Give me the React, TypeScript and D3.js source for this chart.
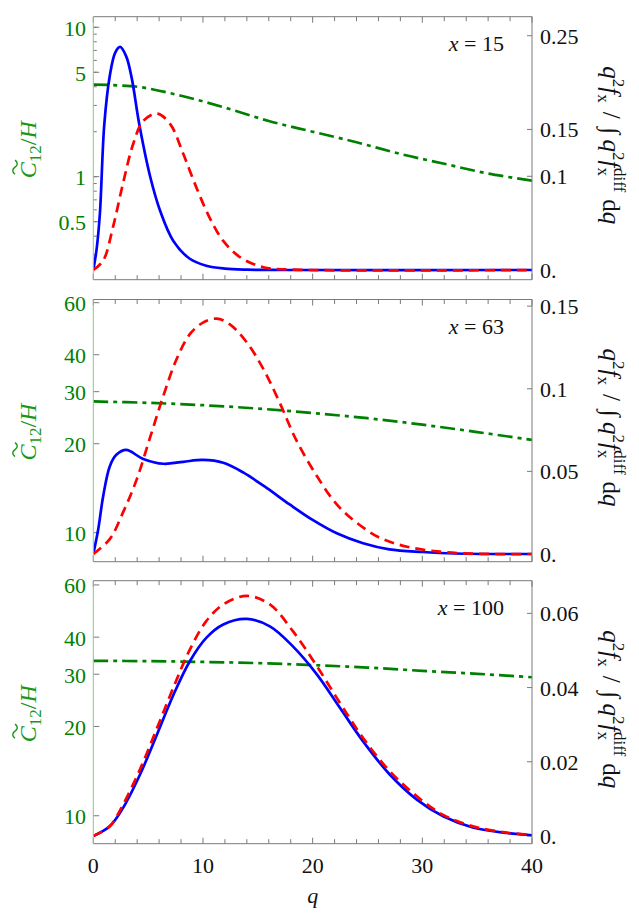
import React from 'react';
import * as d3 from 'd3';

const WIDTH = 639;
const HEIGHT = 920;
const FONT = "'Liberation Serif', 'Times New Roman', 'DejaVu Serif', serif";

const BLUE = '#0000ff';
const RED = '#ff0000';
const GREEN = '#008000';
const FRAME = '#7a7a7a';

// x = 15
const qSolid15 = [0, 0.3, 0.6, 1.0, 1.5, 2.0, 2.45, 3.0, 3.5, 4.2, 5.2, 6.1, 7.3, 8.8, 10.3, 12, 14, 17, 40];
const solid15 = [0, 0.022, 0.06, 0.155, 0.207, 0.232, 0.238, 0.228, 0.205, 0.155, 0.099, 0.063, 0.031, 0.012, 0.0045, 0.0015, 0.0004, 0, 0];
const qDashed15 = [0, 0.9, 1.8, 2.7, 3.65, 4.55, 5.8, 7.0, 8.2, 9.4, 10.6, 11.85, 13.4, 15.5, 18, 40];
const dashed15 = [0, 0.010, 0.046, 0.092, 0.135, 0.159, 0.167, 0.156, 0.124, 0.088, 0.056, 0.031, 0.0135, 0.003, 0.0005, 0];
const qC15 = [0, 4, 8, 12, 16, 20, 24, 28, 32, 36, 40];
const c15 = [4.13, 4.0, 3.48, 2.9, 2.36, 2.0, 1.7, 1.42, 1.22, 1.05, 0.94];

// x = 63
const qSolid63 = [0, 0.45, 0.9, 1.5, 2.1, 3.0, 4.5, 6.4, 8.2, 10.0, 11.85, 13.7, 15.8, 17.9, 20.0, 22.2, 24.6, 27, 30, 33, 40];
const solid63 = [0, 0.015, 0.035, 0.053, 0.06, 0.063, 0.0577, 0.0546, 0.0558, 0.0569, 0.0552, 0.0492, 0.04, 0.03, 0.0206, 0.0125, 0.0065, 0.0028, 0.0012, 0.0003, 0];
const qDashed63 = [0, 1.5, 2.7, 3.95, 5.2, 6.4, 7.6, 8.8, 10.0, 11.25, 12.45, 14.0, 15.5, 17.0, 18.5, 20.4, 22.2, 24.0, 26.1, 28.6, 31.6, 34.5, 40];
const dashed63 = [0, 0.009, 0.025, 0.045, 0.071, 0.096, 0.118, 0.133, 0.14, 0.1424, 0.139, 0.128, 0.112, 0.0915, 0.069, 0.047, 0.03, 0.019, 0.0099, 0.0044, 0.0014, 0.0002, 0];
const qC63 = [0, 5, 10, 15, 20, 25, 30, 35, 40];
const c63 = [27.8, 27.5, 27.0, 26.3, 25.4, 24.4, 23.2, 21.9, 20.6];

// x = 100
const q100 = [0, 1.5, 2.7, 4.25, 5.8, 7.3, 8.8, 10.3, 11.85, 14.0, 16.1, 18.2, 20.4, 22.5, 24.6, 27.05, 29.5, 31.9, 34.6, 37.7, 40];
const solid100 = [0, 0.0026, 0.0075, 0.0165, 0.0273, 0.038, 0.0471, 0.0534, 0.057, 0.0585, 0.0565, 0.0511, 0.0435, 0.0345, 0.0255, 0.0165, 0.0098, 0.0053, 0.0023, 0.0008, 0.0002];
const dashed100 = [0, 0.0026, 0.0084, 0.0179, 0.029, 0.04, 0.0502, 0.0579, 0.0624, 0.0647, 0.0624, 0.0552, 0.0457, 0.0358, 0.0264, 0.0174, 0.0107, 0.0057, 0.0026, 0.0009, 0.0003];
const qC100 = [0, 5, 10, 15, 20, 25, 30, 35, 40];
const c100 = [33.3, 33.2, 33.0, 32.7, 32.2, 31.6, 30.8, 30.1, 29.3];

// axis ticks
const xTicks = [0, 10, 20, 30, 40];
const leftTicks15 = [0.5, 1, 5, 10];
const leftTicksHigh = [10, 20, 30, 40, 60];
const rightTicks15 = [0, 0.1, 0.15, 0.25];
const rightTicks63 = [0, 0.05, 0.1, 0.15];
const rightTicks100 = [0, 0.02, 0.04, 0.06];
const rightLabels15 = ['0.', '0.1', '0.15', '0.25'];
const rightLabels63 = ['0.', '0.05', '0.1', '0.15'];
const rightLabels100 = ['0.', '0.02', '0.04', '0.06'];

const zip = (qs: number[], vs: number[]) => qs.map((q, i) => [q, vs[i]] as [number, number]);

const panels = [
  {
    x: 15, top: 16.7, bottom: 279.7,
    leftDomain: [0.2045, 11.77], rightDomain: [-0.01035, 0.2703],
    leftTicks: leftTicks15, rightTicks: rightTicks15, rightLabels: rightLabels15,
    solid: zip(qSolid15, solid15), dashed: zip(qDashed15, dashed15), c: zip(qC15, c15),
  },
  {
    x: 63, top: 299.5, bottom: 561.7,
    leftDomain: [7.98, 61.5], rightDomain: [-0.00466, 0.154],
    leftTicks: leftTicksHigh, rightTicks: rightTicks63, rightLabels: rightLabels63,
    solid: zip(qSolid63, solid63), dashed: zip(qDashed63, dashed63), c: zip(qC63, c63),
  },
  {
    x: 100, top: 580.7, bottom: 843.7,
    leftDomain: [8.05, 62.0], rightDomain: [-0.00208, 0.0688],
    leftTicks: leftTicksHigh, rightTicks: rightTicks100, rightLabels: rightLabels100,
    solid: zip(q100, solid100), dashed: zip(q100, dashed100), c: zip(qC100, c100),
  },
];

const xScale = d3.scaleLinear().domain([0, 40]).range([93.3, 532]);
const minorX = d3.range(0, 41, 2);

function logMinorTicks(domain: number[]) {
  const out: number[] = [];
  for (let e = -2; e <= 2; e++) {
    for (let m = 1; m <= 9; m++) {
      const v = m * Math.pow(10, e);
      if (v >= domain[0] && v <= domain[1]) out.push(v);
    }
  }
  return out;
}

function Panel({ p, last }: { p: typeof panels[number]; last: boolean }) {
  const [x0, x1] = xScale.range();
  const yL = d3.scaleLog().domain(p.leftDomain).range([p.bottom, p.top]);
  const yR = d3.scaleLinear().domain(p.rightDomain).range([p.bottom, p.top]);
  const lineR = d3.line<[number, number]>().x(d => xScale(d[0])).y(d => yR(d[1])).curve(d3.curveCatmullRom.alpha(0.5));
  const lineL = d3.line<[number, number]>().x(d => xScale(d[0])).y(d => yL(d[1])).curve(d3.curveCatmullRom.alpha(0.5));
  const clipId = `clip-${p.x}`;
  const mid = (p.top + p.bottom) / 2;
  const minorLeft = p.x === 15 ? logMinorTicks(p.leftDomain) : [];

  return (
    <g style={{ fontFamily: FONT }}>
      <defs>
        <clipPath id={clipId}>
          <rect x={x0} y={p.top} width={x1 - x0} height={p.bottom - p.top} />
        </clipPath>
      </defs>

      {/* x ticks, top and bottom */}
      {minorX.map(q => {
        const len = q % 10 === 0 ? 6 : 4.5;
        return (
          <g key={q} stroke={FRAME} strokeWidth={1}>
            <line x1={xScale(q)} x2={xScale(q)} y1={p.bottom} y2={p.bottom - len} />
            <line x1={xScale(q)} x2={xScale(q)} y1={p.top} y2={p.top + len} />
          </g>
        );
      })}

      {/* left log ticks */}
      {minorLeft.map(v => (
        <line key={'m' + v} x1={x0} x2={x0 + 3.5} y1={yL(v)} y2={yL(v)} stroke={FRAME} strokeWidth={1} />
      ))}
      {p.leftTicks.map(v => (
        <g key={'l' + v}>
          <line x1={x0} x2={x0 + 6} y1={yL(v)} y2={yL(v)} stroke={FRAME} strokeWidth={1} />
          <text x={86} y={yL(v) + 8.5} textAnchor="end" fontSize={22} fill={GREEN}>{v}</text>
        </g>
      ))}

      {/* right linear ticks */}
      {p.rightTicks.map((v, i) => (
        <g key={'r' + v}>
          <line x1={x1} x2={x1 - 5} y1={yR(v)} y2={yR(v)} stroke={FRAME} strokeWidth={1} />
          <text x={540} y={yR(v) + 8} fontSize={22} fill="#111">{p.rightLabels[i]}</text>
        </g>
      ))}

      {/* curves */}
      <g clipPath={`url(#${clipId})`} fill="none" strokeWidth={2.7}>
        <path d={lineL(p.c) ?? ''} stroke={GREEN} strokeDasharray="15,5,4,5" />
        <path d={lineR(p.solid) ?? ''} stroke={BLUE} />
        <path d={lineR(p.dashed) ?? ''} stroke={RED} strokeDasharray="10,6" />
      </g>

      {/* frame */}
      <line x1={x0} x2={x1} y1={p.top} y2={p.top} stroke={FRAME} />
      <line x1={x0} x2={x1} y1={p.bottom} y2={p.bottom} stroke={FRAME} />
      <line x1={x1} x2={x1} y1={p.top} y2={p.bottom} stroke={FRAME} />
      <line x1={x0} x2={x0} y1={p.top} y2={p.bottom} stroke="#86c686" />

      <text x={504} y={p.top + 34} textAnchor="end" fontSize={22} fill="#111">
        <tspan fontStyle="italic">x</tspan> = {p.x}
      </text>

      {/* left axis label */}
      <g transform={`translate(36,${mid - 7}) rotate(-90)`} fill="#1a961a">
        <text x={-37} y={0} fontSize={24}>
          <tspan fontStyle="italic">C</tspan>
          <tspan fontSize={17} dy={5}>12</tspan>
          <tspan dy={-5}>/</tspan>
          <tspan fontStyle="italic">H</tspan>
        </text>
        <path d="M -33 -21 c 2 -3 5 -3 7 0 s 5 3 7 0" fill="none" stroke="#1a961a" strokeWidth={1.4} />
      </g>

      {/* right axis label */}
      <g transform={`translate(603,${mid - 3}) rotate(90)`} fill="#111">
        <text x={0} y={0} textAnchor="middle" fontSize={25}>
          <tspan fontStyle="italic">q</tspan>
          <tspan fontSize={17} dy={-10}>2</tspan>
          <tspan fontStyle="italic" dy={10}>f</tspan>
          <tspan fontSize={17} dy={5}>x</tspan>
          <tspan dx={9} dy={-5}>/</tspan>
          <tspan dx={9}>∫</tspan>
          <tspan fontStyle="italic" dx={5}>q</tspan>
          <tspan fontSize={17} dy={-10}>2</tspan>
          <tspan fontStyle="italic" dy={10}>f</tspan>
          <tspan fontSize={17} dy={5}>x</tspan>
          <tspan fontSize={17} dx={-8} dy={-16}>diff</tspan>
          <tspan dx={7} dy={11}>d</tspan>
          <tspan fontStyle="italic">q</tspan>
        </text>
      </g>

      {last && (
        <g fontSize={22} fill="#111">
          {xTicks.map(q => (
            <text key={q} x={xScale(q)} y={p.bottom + 29} textAnchor="middle">{q}</text>
          ))}
          <text x={(x0 + x1) / 2} y={903} textAnchor="middle" fontStyle="italic">q</text>
        </g>
      )}
    </g>
  );
}

export default function App() {
  return (
    <svg width={WIDTH} height={HEIGHT} style={{ position: 'absolute', left: 0, top: 0, background: '#fff' }}>
      <rect width={WIDTH} height={HEIGHT} fill="#fff" />
      {panels.map((p, i) => (
        <Panel key={p.x} p={p} last={i === panels.length - 1} />
      ))}
    </svg>
  );
}
